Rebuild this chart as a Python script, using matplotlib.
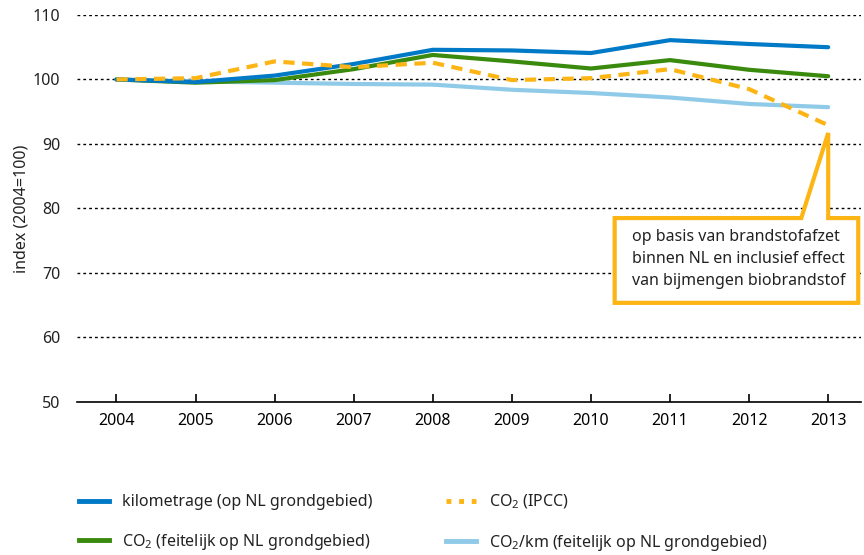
import matplotlib
matplotlib.use("Agg")
import matplotlib.pyplot as plt
from matplotlib.patches import Polygon
from matplotlib.lines import Line2D

plt.rcParams['font.family'] = ['Noto Sans', 'DejaVu Sans']
plt.rcParams['mathtext.fontset'] = 'custom'
plt.rcParams['mathtext.rm'] = 'Noto Sans'

years = [2004, 2005, 2006, 2007, 2008, 2009, 2010, 2011, 2012, 2013]
kilometrage = [100.0, 99.6, 100.6, 102.4, 104.6, 104.5, 104.1, 106.1, 105.5, 105.0]
co2_feitelijk = [100.0, 99.5, 99.9, 101.6, 103.8, 102.8, 101.7, 103.0, 101.5, 100.5]
co2_ipcc = [100.0, 100.2, 102.8, 101.9, 102.6, 99.9, 100.2, 101.6, 98.5, 92.9]
co2_per_km = [100.0, 99.7, 99.5, 99.3, 99.2, 98.4, 97.9, 97.2, 96.2, 95.7]
yticks = [50, 60, 70, 80, 90, 100, 110]

labels = ['kilometrage (op NL grondgebied)',
          'CO$_2$ (feitelijk op NL grondgebied)',
          'CO$_2$ (IPCC)',
          'CO$_2$/km (feitelijk op NL grondgebied)']
c_blue = '#0079C6'
c_green = '#3A8A0E'
c_orange = '#FDB515'
c_light = '#8FCBE8'

fig = plt.figure(figsize=(8.64, 5.55), dpi=100)
ax = fig.add_axes([0.089, 0.276, 0.908, 0.697])

lw = 3.0
ax.plot(years, co2_per_km, color=c_light, lw=lw, solid_capstyle='round', zorder=3)
ax.plot(years, co2_feitelijk, color=c_green, lw=lw, solid_capstyle='round', zorder=4)
ax.plot(years, kilometrage, color=c_blue, lw=lw, solid_capstyle='round', zorder=5)
ax.plot(years, co2_ipcc, color=c_orange, lw=lw, dashes=(2.7, 1.8), zorder=6)

ax.set_xlim(2003.5, 2013.42)
ax.set_ylim(50, 110)
ax.set_xticks(years)
ax.set_yticks(yticks)
for y in yticks[1:]:
    ax.axhline(y, color='black', lw=1.0, dashes=(2, 2.2), zorder=1)

for s in ['top', 'right', 'left']:
    ax.spines[s].set_visible(False)
ax.spines['bottom'].set_color('black')
ax.spines['bottom'].set_linewidth(1.2)
ax.tick_params(axis='x', direction='in', length=6, width=1.2, labelsize=11.5, pad=8, colors='black')
ax.tick_params(axis='y', length=0, labelsize=11.5, pad=12, colors='#222222')
for lbl in ax.get_yticklabels():
    lbl.set_color('#222222')
ax.set_ylabel('index (2004=100)', fontsize=11.5, labelpad=2, color='#222222')

# callout annotation box
tip = (2013, 91.7)
x_left, x_right = 2010.3, 2013.38
y_top, y_bot = 78.5, 65.35
base_left = 2012.66
verts = [(x_left, y_top), (base_left, y_top), tip, (tip[0], y_top),
         (x_right, y_top), (x_right, y_bot), (x_left, y_bot)]
poly = Polygon(verts, closed=True, facecolor='white', edgecolor=c_orange,
               lw=3.0, joinstyle='miter', clip_on=False, zorder=8)
ax.add_patch(poly)
ax.text(x_left + 0.22, (y_top + y_bot) / 2 + 0.2,
        'op basis van brandstofafzet\nbinnen NL en inclusief effect\nvan bijmengen biobrandstof',
        ha='left', va='center', fontsize=11.5, color='#222222', linespacing=1.5, zorder=9)

handles = [Line2D([], [], color=c_blue, lw=3.5),
           Line2D([], [], color=c_green, lw=3.5),
           Line2D([], [], color=c_orange, lw=3.5, dashes=(1.0, 1.6)),
           Line2D([], [], color=c_light, lw=3.5)]
fig.legend(handles, labels,
           loc='upper left', bbox_to_anchor=(0.084, 0.124), ncol=2, frameon=False,
           fontsize=11.5, handlelength=1.9, handletextpad=0.8, columnspacing=4.6,
           labelspacing=1.35, labelcolor='#222222', borderaxespad=0.0)

fig.savefig('out.png', dpi=100)
